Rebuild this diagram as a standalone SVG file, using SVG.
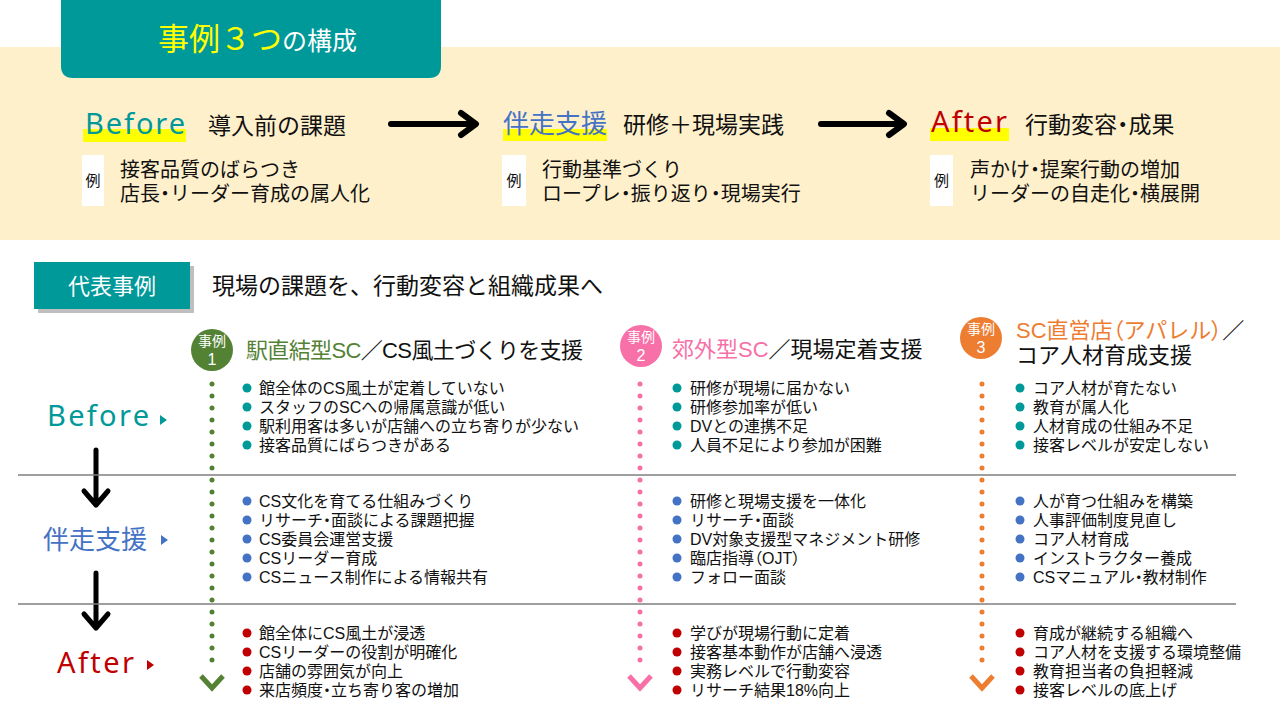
<svg xmlns="http://www.w3.org/2000/svg" width="1280" height="720" viewBox="0 0 1280 720">
<style>
text{font-family:"Liberation Sans","Noto Sans CJK JP",sans-serif;}
.lat{font-family:"Noto Sans","Noto Sans CJK JP",sans-serif}
.blk{fill:#111}
.t20{font-size:20px}
.t23{font-size:23px}
.b{font-size:16px;fill:#111}
.rei{font-size:15px;fill:#111}
.teal{fill:#009999}
.blue{fill:#4472C4}
.red{fill:#C00000}
.p{font-feature-settings:"palt"}
.ar{fill:none;stroke:#000;stroke-linecap:round;stroke-linejoin:round}
.div{stroke:#7f7f7f;stroke-width:1.5}
.ct{font-size:14px;fill:#fff;text-anchor:middle}
.cn{font-size:16px;fill:#fff;text-anchor:middle}
</style>
<rect width="1280" height="720" fill="#fff"/>
<rect x="0" y="47" width="1280" height="193" fill="#FFF0CC"/>
<g id="title">
<path d="M61 0 H441 V66 Q441 78 429 78 H73 Q61 78 61 66 Z" fill="#009999"/>
<text x="158" y="50"><tspan font-size="31" fill="#FFFF00">事例３つ</tspan><tspan font-size="25" fill="#fff">の構成</tspan></text>
</g>
<g id="before-top">
<rect x="83" y="129" width="103" height="13" fill="#FFFF00"/>
<text x="85" y="134" font-size="29" class="lat teal" textLength="100">Before</text>
<text x="208" y="134" class="t23 blk">導入前の課題</text>
<rect x="82" y="155" width="22" height="51" fill="#fff"/>
<text x="93" y="186" class="rei" text-anchor="middle">例</text>
<text x="120" y="177" class="t20 blk">接客品質のばらつき</text>
<text x="120" y="201" class="t20 blk">店長<tspan class="p">・</tspan>リーダー育成の属人化</text>
</g>
<g id="support-top">
<rect x="503" y="129" width="104" height="12" fill="#FFFF00"/>
<text x="503" y="133" font-size="26" class="blue">伴走支援</text>
<text x="623" y="133" class="t23 blk">研修＋現場実践</text>
<rect x="502" y="155" width="24" height="51" fill="#fff"/>
<text x="514" y="186" class="rei" text-anchor="middle">例</text>
<text x="542" y="177" class="t20 blk">行動基準づくり</text>
<text x="542" y="201" class="t20 blk">ロープレ<tspan class="p">・</tspan>振り返り<tspan class="p">・</tspan>現場実行</text>
</g>
<g id="after-top">
<rect x="930" y="128" width="79" height="13" fill="#FFFF00"/>
<text x="931" y="132" font-size="29" class="lat red" textLength="76">After</text>
<text x="1025" y="133" class="t23 blk">行動変容<tspan class="p">・</tspan>成果</text>
<rect x="930" y="155" width="23" height="51" fill="#fff"/>
<text x="941.5" y="186" class="rei" text-anchor="middle">例</text>
<text x="970" y="177" class="t20 blk">声かけ<tspan class="p">・</tspan>提案行動の増加</text>
<text x="970" y="201" class="t20 blk">リーダーの自走化<tspan class="p">・</tspan>横展開</text>
</g>
<g id="connectors">
<path class="ar" stroke-width="6" d="M391 124 H475 M461 113 L476 124 L461 135"/>
<path class="ar" stroke-width="6" d="M821 124 H903 M889 113 L904 124 L889 135"/>
<path class="ar" stroke-width="5" d="M96 450 V504 M84 491 L96 505 L108 491"/>
<path class="ar" stroke-width="5" d="M96 573 V627 M84 614 L96 628 L108 614"/>
<line x1="212" y1="384" x2="212" y2="672" stroke="#548235" stroke-width="5" stroke-linecap="round" stroke-dasharray="0 12"/>
<path d="M201 676 L212 688 L223 676" fill="none" stroke="#548235" stroke-width="5"/>
<line x1="640" y1="384" x2="640" y2="672" stroke="#F870A8" stroke-width="5" stroke-linecap="round" stroke-dasharray="0 12"/>
<path d="M629 676 L640 688 L651 676" fill="none" stroke="#F870A8" stroke-width="5"/>
<line x1="982" y1="384" x2="982" y2="672" stroke="#ED7D31" stroke-width="5" stroke-linecap="round" stroke-dasharray="0 12"/>
<path d="M971 676 L982 688 L993 676" fill="none" stroke="#ED7D31" stroke-width="5"/>
</g>
<g id="dividers">
<line class="div" x1="18" y1="475" x2="1236" y2="475"/>
<line class="div" x1="18" y1="604" x2="1236" y2="604"/>
</g>
<g id="section-head">
<rect x="38" y="266" width="156" height="47" fill="#BFBFBF"/>
<rect x="34" y="262" width="156" height="47" fill="#009999"/>
<text x="112" y="294" font-size="22" fill="#fff" text-anchor="middle">代表事例</text>
<text x="212" y="294" class="t23 blk">現場の課題を、行動変容と組織成果へ</text>
</g>
<g id="row-labels">
<text x="47" y="426" font-size="29" class="lat teal" textLength="102">Before</text>
<path d="M160 415 L167 420 L160 425 Z" fill="#009999"/>
<text x="43" y="549" font-size="26" class="blue">伴走支援</text>
<path d="M161 535 L168 540 L161 545 Z" fill="#4472C4"/>
<text x="57" y="673" font-size="29" class="lat red" textLength="77">After</text>
<path d="M147 660 L154 665 L147 670 Z" fill="#C00000"/>
</g>
<g id="case1">
<circle cx="212" cy="350" r="21" fill="#548235"/>
<text class="ct" x="212" y="346">事例</text>
<text class="cn" x="212" y="365">1</text>
<text x="246" y="358" font-size="22" textLength="337"><tspan fill="#548235">駅直結型SC</tspan><tspan fill="#111">／CS風土づくりを支援</tspan></text>
</g>
<g id="case2">
<circle cx="641" cy="346" r="21" fill="#F870A8"/>
<text class="ct" x="641" y="342">事例</text>
<text class="cn" x="641" y="361">2</text>
<text x="672" y="357" font-size="22"><tspan fill="#F870A8">郊外型SC</tspan><tspan fill="#111">／現場定着支援</tspan></text>
</g>
<g id="case3">
<circle cx="981" cy="338" r="21" fill="#ED7D31"/>
<text class="ct" x="981" y="334">事例</text>
<text class="cn" x="981" y="353">3</text>
<text x="1016" y="338" font-size="22" fill="#ED7D31">SC直営店<tspan class="p">（</tspan>アパレル<tspan class="p">）</tspan><tspan fill="#111">／</tspan></text>
<text x="1016" y="363" font-size="22" fill="#111">コア人材育成支援</text>
</g>
<g id="case1-list">
<g fill="#009999"><circle cx="247" cy="388" r="4.5"/><circle cx="247" cy="407" r="4.5"/><circle cx="247" cy="426" r="4.5"/><circle cx="247" cy="445" r="4.5"/></g>
<text x="259" y="394" class="b">館全体のCS風土が定着していない</text>
<text x="259" y="413" class="b">スタッフのSCへの帰属意識が低い</text>
<text x="259" y="432" class="b">駅利用客は多いが店舗への立ち寄りが少ない</text>
<text x="259" y="451" class="b">接客品質にばらつきがある</text>
<g fill="#4472C4"><circle cx="247" cy="501" r="4.5"/><circle cx="247" cy="520" r="4.5"/><circle cx="247" cy="539" r="4.5"/><circle cx="247" cy="558" r="4.5"/><circle cx="247" cy="577" r="4.5"/></g>
<text x="259" y="507" class="b">CS文化を育てる仕組みづくり</text>
<text x="259" y="526" class="b">リサーチ<tspan class="p">・</tspan>面談による課題把握</text>
<text x="259" y="545" class="b">CS委員会運営支援</text>
<text x="259" y="564" class="b">CSリーダー育成</text>
<text x="259" y="583" class="b">CSニュース制作による情報共有</text>
<g fill="#C00000"><circle cx="247" cy="633" r="4.5"/><circle cx="247" cy="652" r="4.5"/><circle cx="247" cy="671" r="4.5"/><circle cx="247" cy="690" r="4.5"/></g>
<text x="259" y="639" class="b">館全体にCS風土が浸透</text>
<text x="259" y="658" class="b">CSリーダーの役割が明確化</text>
<text x="259" y="677" class="b">店舗の雰囲気が向上</text>
<text x="259" y="696" class="b">来店頻度<tspan class="p">・</tspan>立ち寄り客の増加</text>
</g>
<g id="case2-list">
<g fill="#009999"><circle cx="677" cy="388" r="4.5"/><circle cx="677" cy="407" r="4.5"/><circle cx="677" cy="426" r="4.5"/><circle cx="677" cy="445" r="4.5"/></g>
<text x="690" y="394" class="b">研修が現場に届かない</text>
<text x="690" y="413" class="b">研修参加率が低い</text>
<text x="690" y="432" class="b">DVとの連携不足</text>
<text x="690" y="451" class="b">人員不足により参加が困難</text>
<g fill="#4472C4"><circle cx="677" cy="501" r="4.5"/><circle cx="677" cy="520" r="4.5"/><circle cx="677" cy="539" r="4.5"/><circle cx="677" cy="558" r="4.5"/><circle cx="677" cy="577" r="4.5"/></g>
<text x="690" y="507" class="b">研修と現場支援を一体化</text>
<text x="690" y="526" class="b">リサーチ<tspan class="p">・</tspan>面談</text>
<text x="690" y="545" class="b">DV対象支援型マネジメント研修</text>
<text x="690" y="564" class="b">臨店指導<tspan class="p">（</tspan>OJT<tspan class="p">）</tspan></text>
<text x="690" y="583" class="b">フォロー面談</text>
<g fill="#C00000"><circle cx="677" cy="633" r="4.5"/><circle cx="677" cy="652" r="4.5"/><circle cx="677" cy="671" r="4.5"/><circle cx="677" cy="690" r="4.5"/></g>
<text x="690" y="639" class="b">学びが現場行動に定着</text>
<text x="690" y="658" class="b">接客基本動作が店舗へ浸透</text>
<text x="690" y="677" class="b">実務レベルで行動変容</text>
<text x="690" y="696" class="b">リサーチ結果18%向上</text>
</g>
<g id="case3-list">
<g fill="#009999"><circle cx="1020" cy="388" r="4.5"/><circle cx="1020" cy="407" r="4.5"/><circle cx="1020" cy="426" r="4.5"/><circle cx="1020" cy="445" r="4.5"/></g>
<text x="1033" y="394" class="b">コア人材が育たない</text>
<text x="1033" y="413" class="b">教育が属人化</text>
<text x="1033" y="432" class="b">人材育成の仕組み不足</text>
<text x="1033" y="451" class="b">接客レベルが安定しない</text>
<g fill="#4472C4"><circle cx="1020" cy="501" r="4.5"/><circle cx="1020" cy="520" r="4.5"/><circle cx="1020" cy="539" r="4.5"/><circle cx="1020" cy="558" r="4.5"/><circle cx="1020" cy="577" r="4.5"/></g>
<text x="1033" y="507" class="b">人が育つ仕組みを構築</text>
<text x="1033" y="526" class="b">人事評価制度見直し</text>
<text x="1033" y="545" class="b">コア人材育成</text>
<text x="1033" y="564" class="b">インストラクター養成</text>
<text x="1033" y="583" class="b">CSマニュアル<tspan class="p">・</tspan>教材制作</text>
<g fill="#C00000"><circle cx="1020" cy="633" r="4.5"/><circle cx="1020" cy="652" r="4.5"/><circle cx="1020" cy="671" r="4.5"/><circle cx="1020" cy="690" r="4.5"/></g>
<text x="1033" y="639" class="b">育成が継続する組織へ</text>
<text x="1033" y="658" class="b">コア人材を支援する環境整備</text>
<text x="1033" y="677" class="b">教育担当者の負担軽減</text>
<text x="1033" y="696" class="b">接客レベルの底上げ</text>
</g>
</svg>
